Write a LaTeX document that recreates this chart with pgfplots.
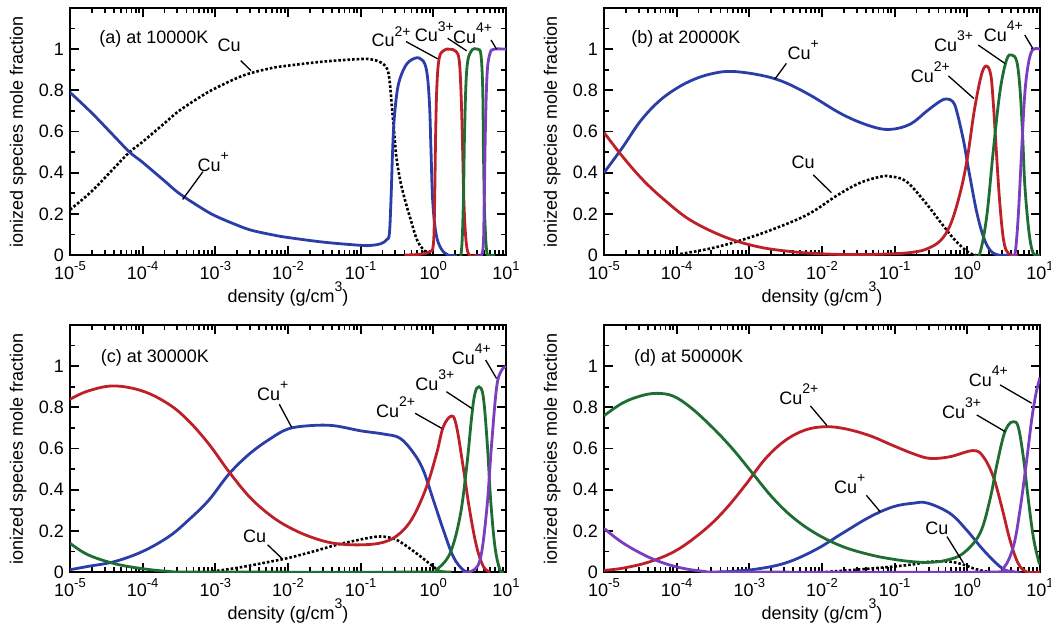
\documentclass[border=0pt]{standalone}
\usepackage{fontspec}
\setmainfont{Liberation Sans}
\usepackage{pgfplots}
\pgfplotsset{compat=1.18}

\definecolor{cuone}{RGB}{43,62,168}
\definecolor{cutwo}{RGB}{190,32,42}
\definecolor{cuthree}{RGB}{30,110,52}
\definecolor{cufour}{RGB}{122,62,190}

\newcommand{\up}[1]{\raisebox{0.6em}{\fontsize{14}{14}\selectfont #1}}
\newcommand{\tk}[1]{10\raisebox{0.5em}{\fontsize{13}{13}\selectfont #1}}

\tikzset{lead/.style={line width=1.3pt, black}}

% x is log10 of density
\pgfplotsset{
  panel/.style={
    scale only axis, width=436pt, height=247pt,
    xmin=-5, xmax=1, ymin=0, ymax=1.2,
    xtick={-5,-4,-3,-2,-1,0,1},
    xticklabels={\tk{-5},\tk{-4},\tk{-3},\tk{-2},\tk{-1},\tk{0},\tk{1}},
    minor xtick={-4.699,-4.523,-4.398,-4.301,-4.222,-4.155,-4.097,-4.046,
                 -3.699,-3.523,-3.398,-3.301,-3.222,-3.155,-3.097,-3.046,
                 -2.699,-2.523,-2.398,-2.301,-2.222,-2.155,-2.097,-2.046,
                 -1.699,-1.523,-1.398,-1.301,-1.222,-1.155,-1.097,-1.046,
                 -0.699,-0.523,-0.398,-0.301,-0.222,-0.155,-0.097,-0.046,
                 0.301,0.477,0.602,0.699,0.778,0.845,0.903,0.954},
    ytick={0,0.2,0.4,0.6,0.8,1},
    yticklabels={0,0.2,0.4,0.6,0.8,1},
    minor ytick={0.1,0.3,0.5,0.7,0.9,1.1},
    tick align=inside,
    major tick length=9pt, minor tick length=5pt,
    every tick/.append style={line width=1.8pt, black},
    axis line style={line width=2.4pt},
    xlabel={density (g/cm\up{3})},
    xlabel style={yshift=10pt},
    ylabel={ionized species mole fraction},
    every axis plot/.append style={line width=2.8pt, smooth, tension=0.6},
  },
  cu0/.style={black, line width=2.6pt, dash pattern=on 2.6pt off 2pt},
  cu1/.style={cuone},
  cu2/.style={cutwo},
  cu3/.style={cuthree},
  cu4/.style={cufour},
}

\begin{document}
\fontsize{18}{22}\selectfont
\begin{tikzpicture}
\path[use as bounding box] (0,0) rectangle (1051pt,622pt);

% ---------------- (a) 10000 K
\begin{axis}[panel, at={(70pt,367pt)}, anchor=south west]
\addplot[cu0] coordinates {(-5,0.22) (-4.7,0.31) (-4.4,0.42) (-4.18,0.50) (-4,0.55) (-3.7,0.64) (-3.5,0.70) (-3.2,0.77) (-3,0.81) (-2.7,0.86) (-2.5,0.885) (-2.2,0.91) (-2,0.92) (-1.5,0.94) (-1,0.952) (-0.85,0.95) (-0.75,0.94) (-0.68,0.925) (-0.63,0.90) (-0.60,0.84) (-0.57,0.72) (-0.54,0.6) (-0.51,0.48) (-0.46,0.37) (-0.40,0.28) (-0.31,0.17) (-0.22,0.07) (-0.12,0.02) (-0.03,0)};
\addplot[cu1] coordinates {(-5,0.79) (-4.7,0.69) (-4.4,0.58) (-4.18,0.5) (-4,0.45) (-3.7,0.36) (-3.5,0.30) (-3.2,0.23) (-3,0.19) (-2.7,0.145) (-2.5,0.12) (-2.2,0.097) (-2,0.085) (-1.5,0.062) (-1,0.047) (-0.85,0.047) (-0.72,0.055) (-0.64,0.075) (-0.605,0.104) (-0.583,0.265) (-0.56,0.51) (-0.537,0.667) (-0.49,0.812) (-0.42,0.893) (-0.33,0.941) (-0.193,0.957) (-0.10,0.908) (-0.055,0.748) (-0.032,0.506) (-0.009,0.265) (0.037,0.104) (0.105,0.032) (0.2,0.0) (0.3,0)};
\addplot[cu2] coordinates {(-0.4,0) (-0.2,0.003) (-0.06,0.015) (0.0,0.05) (0.018,0.265) (0.032,0.59) (0.05,0.83) (0.083,0.96) (0.15,0.995) (0.22,1.0) (0.31,0.99) (0.358,0.94) (0.385,0.75) (0.404,0.5) (0.42,0.265) (0.45,0.07) (0.495,0.0) (0.6,0)};
\addplot[cu3] coordinates {(0.3,0) (0.38,0.0) (0.413,0.25) (0.43,0.6) (0.46,0.9) (0.52,0.99) (0.61,1.0) (0.656,0.97) (0.68,0.8) (0.69,0.5) (0.706,0.2) (0.734,0.02) (0.77,0) (0.85,0)};
\addplot[cu4] coordinates {(0.6,0) (0.68,0.02) (0.70,0.25) (0.716,0.6) (0.74,0.88) (0.78,0.98) (0.84,1.0) (1.0,1.0)};
\node[anchor=west] at (axis cs:-4.68,1.05) {(a) at 10000K};
\node at (axis cs:-2.81,1.017) {Cu};
\draw[lead] (axis cs:-2.65,0.944) -- (axis cs:-2.51,0.896);
\node at (axis cs:-3.03,0.453) {Cu\up{+}};
\draw[lead] (axis cs:-3.17,0.405) -- (axis cs:-3.45,0.27);
\node at (axis cs:-0.58,1.061) {Cu\up{2+}};
\draw[lead] (axis cs:-0.376,1.037) -- (axis cs:0.06,0.953);
\node at (axis cs:0.014,1.085) {Cu\up{3+}};
\draw[lead] (axis cs:0.197,1.053) -- (axis cs:0.459,0.992);
\node at (axis cs:0.54,1.077) {Cu\up{4+}};
\draw[lead] (axis cs:0.794,1.045) -- (axis cs:0.87,1.0);
\end{axis}

% ---------------- (b) 20000 K
\begin{axis}[panel, at={(604pt,367pt)}, anchor=south west]
\addplot[cu0] coordinates {(-3.95,0.005) (-3.53,0.032) (-3.11,0.072) (-2.645,0.129) (-2.18,0.2) (-1.79,0.29) (-1.48,0.35) (-1.2,0.38) (-1.07,0.382) (-0.85,0.36) (-0.6,0.265) (-0.37,0.16) (-0.19,0.08) (-0.04,0.028) (0.05,0.006) (0.12,0)};
\addplot[cu1] coordinates {(-5,0.40) (-4.75,0.52) (-4.5,0.65) (-4.25,0.745) (-4.0,0.81) (-3.75,0.855) (-3.5,0.882) (-3.25,0.892) (-2.88,0.876) (-2.55,0.844) (-2.18,0.78) (-1.72,0.683) (-1.34,0.627) (-1.07,0.61) (-0.79,0.635) (-0.555,0.70) (-0.37,0.748) (-0.28,0.758) (-0.2,0.745) (-0.147,0.70) (-0.055,0.56) (0.0,0.45) (0.036,0.38) (0.128,0.21) (0.22,0.09) (0.31,0.025) (0.42,0) (0.6,0)};
\addplot[cu2] coordinates {(-5,0.595) (-4.735,0.474) (-4.457,0.362) (-4.16,0.265) (-3.81,0.169) (-3.34,0.088) (-2.88,0.04) (-2.41,0.016) (-1.95,0.005) (-1.5,0.002) (-1.02,0.006) (-0.74,0.014) (-0.555,0.03) (-0.37,0.07) (-0.23,0.15) (-0.1,0.3) (0.0,0.47) (0.095,0.70) (0.19,0.87) (0.257,0.918) (0.32,0.88) (0.355,0.75) (0.4,0.5) (0.445,0.26) (0.5,0.07) (0.57,0.005) (0.7,0)};
\addplot[cu3] coordinates {(0.1,0) (0.17,0.005) (0.266,0.185) (0.357,0.506) (0.45,0.796) (0.54,0.948) (0.61,0.972) (0.68,0.94) (0.724,0.81) (0.76,0.587) (0.79,0.346) (0.84,0.137) (0.885,0.032) (0.93,0) (1,0)};
\addplot[cu4] coordinates {(0.6,0) (0.655,0.005) (0.70,0.185) (0.747,0.506) (0.79,0.78) (0.84,0.93) (0.90,0.997) (1.0,1.0)};
\node[anchor=west] at (axis cs:-4.71,1.05) {(b) at 20000K};
\node at (axis cs:-2.26,0.996) {Cu\up{+}};
\draw[lead] (axis cs:-2.49,0.931) -- (axis cs:-2.65,0.854);
\node at (axis cs:-2.26,0.449) {Cu};
\draw[lead] (axis cs:-2.12,0.389) -- (axis cs:-1.87,0.303);
\node at (axis cs:-0.51,0.89) {Cu\up{2+}};
\draw[lead] (axis cs:-0.26,0.87) -- (axis cs:0.09,0.76);
\node at (axis cs:-0.19,1.037) {Cu\up{3+}};
\draw[lead] (axis cs:0.15,1.02) -- (axis cs:0.52,0.93);
\node at (axis cs:0.495,1.085) {Cu\up{4+}};
\draw[lead] (axis cs:0.79,1.069) -- (axis cs:0.9,1.004);
\end{axis}

% ---------------- (c) 30000 K
\begin{axis}[panel, at={(70pt,50pt)}, anchor=south west]
\addplot[cu0] coordinates {(-3.04,0.003) (-2.72,0.019) (-2.35,0.043) (-2.0,0.068) (-1.65,0.1) (-1.33,0.132) (-1.0,0.158) (-0.77,0.172) (-0.6,0.167) (-0.459,0.147) (-0.23,0.09) (0.0,0.026) (0.09,0)};
\addplot[cu1] coordinates {(-5,0.011) (-4.755,0.027) (-4.384,0.051) (-4.0,0.1) (-3.64,0.172) (-3.37,0.252) (-3.09,0.349) (-2.81,0.477) (-2.53,0.574) (-2.25,0.646) (-2.0,0.695) (-1.70,0.711) (-1.375,0.711) (-1.0,0.686) (-0.68,0.67) (-0.459,0.65) (-0.276,0.58) (-0.14,0.496) (0.0,0.35) (0.138,0.204) (0.275,0.074) (0.41,0.01) (0.5,0)};
\addplot[cu2] coordinates {(-5,0.839) (-4.755,0.879) (-4.4,0.904) (-4.0,0.879) (-3.64,0.815) (-3.37,0.735) (-3.09,0.622) (-2.81,0.486) (-2.53,0.365) (-2.25,0.277) (-2.0,0.22) (-1.70,0.172) (-1.375,0.14) (-1.0,0.132) (-0.68,0.145) (-0.459,0.188) (-0.276,0.269) (-0.092,0.415) (0.046,0.577) (0.138,0.706) (0.253,0.758) (0.32,0.706) (0.41,0.512) (0.5,0.30) (0.596,0.123) (0.69,0.026) (0.78,0)};
\addplot[cu3] coordinates {(-5,0.14) (-4.755,0.084) (-4.38,0.04) (-4.0,0.016) (-3.64,0.003) (-3.3,0) (0.0,0) (0.046,0.01) (0.229,0.09) (0.367,0.269) (0.459,0.512) (0.528,0.755) (0.573,0.868) (0.628,0.90) (0.687,0.852) (0.742,0.625) (0.789,0.35) (0.848,0.123) (0.917,0.01) (0.97,0)};
\addplot[cu4] coordinates {(0.4,0) (0.504,0) (0.642,0.058) (0.734,0.30) (0.803,0.625) (0.872,0.90) (0.94,0.98) (1.0,0.998)};
\node[anchor=west] at (axis cs:-4.66,1.04) {(c) at 30000K};
\node at (axis cs:-2.21,0.879) {Cu\up{+}};
\draw[lead] (axis cs:-2.12,0.815) -- (axis cs:-1.95,0.703);
\node at (axis cs:-2.46,0.172) {Cu};
\draw[lead] (axis cs:-2.28,0.132) -- (axis cs:-2.09,0.068);
\node at (axis cs:-0.52,0.80) {Cu\up{2+}};
\draw[lead] (axis cs:-0.25,0.771) -- (axis cs:0.115,0.698);
\node at (axis cs:0.02,0.93) {Cu\up{3+}};
\draw[lead] (axis cs:0.18,0.876) -- (axis cs:0.528,0.795);
\node at (axis cs:0.523,1.056) {Cu\up{4+}};
\draw[lead] (axis cs:0.72,1.03) -- (axis cs:0.87,0.94);
\end{axis}

% ---------------- (d) 50000 K
\begin{axis}[panel, at={(604pt,50pt)}, anchor=south west]
\addplot[cu0] coordinates {(-1.95,0) (-1.25,0.019) (-0.79,0.035) (-0.514,0.05) (-0.24,0.05) (-0.056,0.036) (0.08,0.018) (0.22,0.005) (0.31,0)};
\addplot[cu1] coordinates {(-3.43,0) (-2.97,0.011) (-2.51,0.043) (-2.09,0.108) (-1.72,0.188) (-1.34,0.268) (-1.02,0.317) (-0.75,0.334) (-0.55,0.335) (-0.24,0.285) (-0.01,0.204) (0.22,0.107) (0.45,0.026) (0.587,0) (0.7,0)};
\addplot[cu2] coordinates {(-5,0.008) (-4.735,0.019) (-4.36,0.051) (-3.99,0.108) (-3.62,0.204) (-3.34,0.3) (-3.06,0.42) (-2.78,0.55) (-2.51,0.638) (-2.23,0.69) (-1.95,0.706) (-1.67,0.695) (-1.34,0.662) (-1.02,0.614) (-0.74,0.574) (-0.514,0.552) (-0.24,0.56) (0.08,0.59) (0.22,0.56) (0.357,0.463) (0.473,0.317) (0.587,0.155) (0.70,0.042) (0.817,0) (1,0)};
\addplot[cu3] coordinates {(-5,0.759) (-4.75,0.82) (-4.5,0.855) (-4.28,0.868) (-4.05,0.855) (-3.81,0.80) (-3.53,0.71) (-3.25,0.606) (-2.97,0.486) (-2.69,0.365) (-2.41,0.268) (-2.09,0.188) (-1.72,0.124) (-1.34,0.084) (-1.02,0.062) (-0.75,0.05) (-0.51,0.047) (-0.28,0.058) (-0.056,0.091) (0.174,0.188) (0.31,0.35) (0.40,0.51) (0.495,0.657) (0.564,0.714) (0.633,0.73) (0.70,0.706) (0.77,0.56) (0.84,0.35) (0.908,0.17) (0.977,0.058) (1.0,0.04)};
\addplot[cu4] coordinates {(-5,0.212) (-4.735,0.14) (-4.36,0.068) (-3.99,0.024) (-3.62,0.003) (-3.3,0) (0.31,0) (0.495,0.018) (0.633,0.123) (0.724,0.30) (0.817,0.544) (0.885,0.739) (0.945,0.868) (1.0,0.945)};
\node[anchor=west] at (axis cs:-4.67,1.04) {(d) at 50000K};
\node at (axis cs:-2.32,0.863) {Cu\up{2+}};
\draw[lead] (axis cs:-2.16,0.807) -- (axis cs:-1.93,0.711);
\node at (axis cs:-1.62,0.429) {Cu\up{+}};
\draw[lead] (axis cs:-1.39,0.373) -- (axis cs:-1.2,0.293);
\node at (axis cs:-0.42,0.212) {Cu};
\draw[lead] (axis cs:-0.28,0.172) -- (axis cs:-0.056,0.045);
\node at (axis cs:-0.08,0.795) {Cu\up{3+}};
\draw[lead] (axis cs:0.13,0.763) -- (axis cs:0.52,0.682);
\node at (axis cs:0.29,0.95) {Cu\up{4+}};
\draw[lead] (axis cs:0.45,0.909) -- (axis cs:0.885,0.82);
\end{axis}
\end{tikzpicture}
\end{document}
